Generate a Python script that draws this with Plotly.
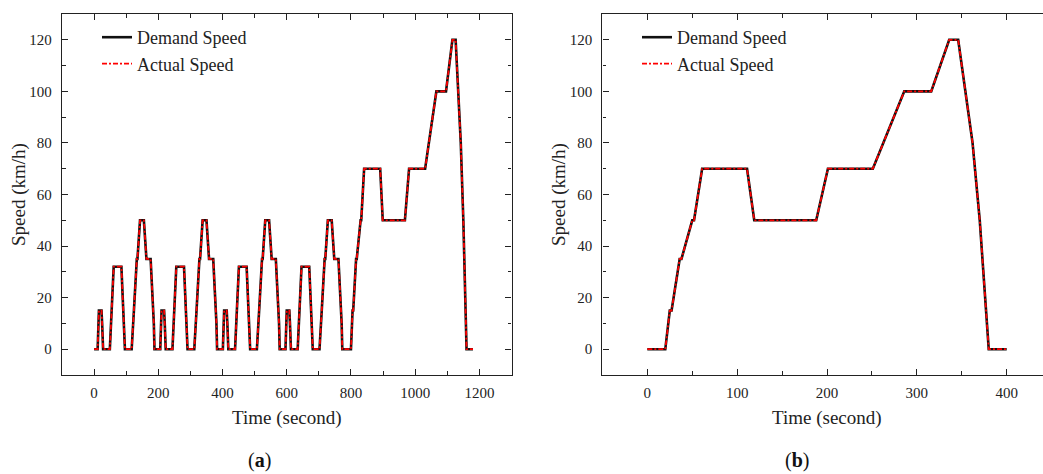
import plotly.graph_objects as go

# ---------------- data ----------------
# (a) full cycle: 4 x urban part + extra-urban part (breakpoints, s / km/h)
time_a = [0, 11, 15, 23, 25, 28, 49, 54, 56, 61, 85, 93, 96, 117, 122, 124, 133, 135, 143, 155, 163, 176, 186, 188,
          195, 206, 210, 218, 220, 223, 244, 249, 251, 256, 280, 288, 291, 312, 317, 319, 328, 330, 338, 350, 358, 371, 381, 383,
          390, 401, 405, 413, 415, 418, 439, 444, 446, 451, 475, 483, 486, 507, 512, 514, 523, 525, 533, 545, 553, 566, 576, 578,
          585, 596, 600, 608, 610, 613, 634, 639, 641, 646, 670, 678, 681, 702, 707, 709, 718, 720, 728, 740, 748, 761, 771, 773,
          780, 800, 805, 807, 816, 818, 830, 832, 841, 891, 899, 968, 981, 1031, 1066, 1096, 1116, 1126, 1142, 1150, 1160, 1180]
demand_a = [0, 0, 15, 15, 10, 0, 0, 15, 15, 32, 32, 10, 0, 0, 15, 15, 35, 35, 50, 50, 35, 35, 10, 0,
            0, 0, 15, 15, 10, 0, 0, 15, 15, 32, 32, 10, 0, 0, 15, 15, 35, 35, 50, 50, 35, 35, 10, 0,
            0, 0, 15, 15, 10, 0, 0, 15, 15, 32, 32, 10, 0, 0, 15, 15, 35, 35, 50, 50, 35, 35, 10, 0,
            0, 0, 15, 15, 10, 0, 0, 15, 15, 32, 32, 10, 0, 0, 15, 15, 35, 35, 50, 50, 35, 35, 10, 0,
            0, 0, 15, 15, 35, 35, 50, 50, 70, 70, 50, 50, 70, 70, 100, 100, 120, 120, 80, 50, 0, 0]
actual_a = list(demand_a)

# (b) extra-urban part
time_b = [0, 20, 25, 27, 36, 38, 50, 52, 61, 111, 119, 188, 201, 251, 286, 316, 336, 346, 362, 370, 380, 400]
demand_b = [0, 0, 15, 15, 35, 35, 50, 50, 70, 70, 50, 50, 70, 70, 100, 100, 120, 120, 80, 50, 0, 0]
actual_b = list(demand_b)

y_ticks = [0, 20, 40, 60, 80, 100, 120]
xa_ticks = [0, 200, 400, 600, 800, 1000, 1200]
xb_ticks = [0, 100, 200, 300, 400]

# ---------------- figure ----------------
W, H = 1043, 474
FONT = "Liberation Serif, Times New Roman, serif"
BLACK = "#111111"
RED = "#ff0000"

fig = go.Figure()

fig.add_trace(go.Scatter(x=time_a, y=demand_a, mode="lines", name="Demand Speed",
                         line=dict(color=BLACK, width=2.6), xaxis="x", yaxis="y", legend="legend"))
fig.add_trace(go.Scatter(x=time_a, y=actual_a, mode="lines", name="Actual Speed",
                         line=dict(color=RED, width=1.8, dash="5px,2px,2px,2px"), xaxis="x", yaxis="y",
                         legend="legend"))
fig.add_trace(go.Scatter(x=time_b, y=demand_b, mode="lines", name="Demand Speed",
                         line=dict(color=BLACK, width=2.6), xaxis="x2", yaxis="y2", legend="legend2"))
fig.add_trace(go.Scatter(x=time_b, y=actual_b, mode="lines", name="Actual Speed",
                         line=dict(color=RED, width=1.8, dash="5px,2px,2px,2px"), xaxis="x2", yaxis="y2",
                         legend="legend2"))

def px_x(p):
    return p / W

def px_y(p):
    return 1 - p / H

axis_common = dict(showgrid=False, zeroline=False, showline=True, linecolor="#222222", linewidth=1.4,
                   ticks="inside", ticklen=6, tickwidth=1.3, tickcolor="#222222",
                   tickfont=dict(family=FONT, size=15, color="#222222"))

fig.update_layout(
    width=W, height=H,
    margin=dict(l=0, r=0, t=0, b=0),
    paper_bgcolor="white", plot_bgcolor="white",
    font=dict(family=FONT, color="#222222"),
    xaxis=dict(domain=[px_x(62), px_x(511.5)], range=[-100, 1300], tickvals=xa_ticks,
               mirror="allticks", anchor="y", ticklabelstandoff=4,
               minor=dict(dtick=100, tick0=0, ticks="inside", ticklen=3.5, tickcolor="#222222", tickwidth=1.2),
               **axis_common),
    yaxis=dict(domain=[px_y(375), px_y(14)], range=[-10, 130], tickvals=y_ticks,
               mirror="allticks", anchor="x", ticklabelstandoff=6,
               minor=dict(dtick=10, tick0=0, ticks="inside", ticklen=3.5, tickcolor="#222222", tickwidth=1.2),
               **axis_common),
    xaxis2=dict(domain=[px_x(602.4), 1.0], range=[-50, 440.4], tickvals=xb_ticks,
                mirror="allticks", anchor="y2", ticklabelstandoff=4,
                minor=dict(dtick=50, tick0=0, ticks="inside", ticklen=3.5, tickcolor="#222222", tickwidth=1.2),
                **axis_common),
    yaxis2=dict(domain=[px_y(375), px_y(14)], range=[-10, 130], tickvals=y_ticks,
                mirror=False, anchor="x2", ticklabelstandoff=6,
                minor=dict(dtick=10, tick0=0, ticks="inside", ticklen=3.5, tickcolor="#222222", tickwidth=1.2),
                **axis_common),
    legend=dict(x=px_x(97), y=px_y(19), xanchor="left", yanchor="top", bgcolor="rgba(0,0,0,0)",
                font=dict(family=FONT, size=18, color="#222222"), tracegroupgap=0),
    legend2=dict(x=px_x(637), y=px_y(19), xanchor="left", yanchor="top", bgcolor="rgba(0,0,0,0)",
                 font=dict(family=FONT, size=18, color="#222222"), tracegroupgap=0),
    showlegend=True,
)

title_font = dict(family=FONT, size=19, color="#222222")
annotations = [
    dict(text="Time (second)", xref="x domain", yref="paper", x=0.5, y=px_y(418),
         showarrow=False, font=title_font, xanchor="center", yanchor="middle"),
    dict(text="Time (second)", xref="x2", yref="paper", x=200, y=px_y(418),
         showarrow=False, font=title_font, xanchor="center", yanchor="middle"),
    dict(text="Speed (km/h)", xref="paper", yref="paper", x=px_x(19), y=px_y(195), textangle=-90,
         showarrow=False, font=title_font, xanchor="center", yanchor="middle"),
    dict(text="Speed (km/h)", xref="paper", yref="paper", x=px_x(559), y=px_y(195), textangle=-90,
         showarrow=False, font=title_font, xanchor="center", yanchor="middle"),
    dict(text="(<b>a</b>)", xref="paper", yref="paper", x=px_x(259), y=px_y(460),
         showarrow=False, font=dict(family=FONT, size=20, color="#111111"), xanchor="center", yanchor="middle"),
    dict(text="(<b>b</b>)", xref="paper", yref="paper", x=px_x(797), y=px_y(460),
         showarrow=False, font=dict(family=FONT, size=20, color="#111111"), xanchor="center", yanchor="middle"),
]
fig.update_layout(annotations=annotations)

fig.write_html("out.html")
